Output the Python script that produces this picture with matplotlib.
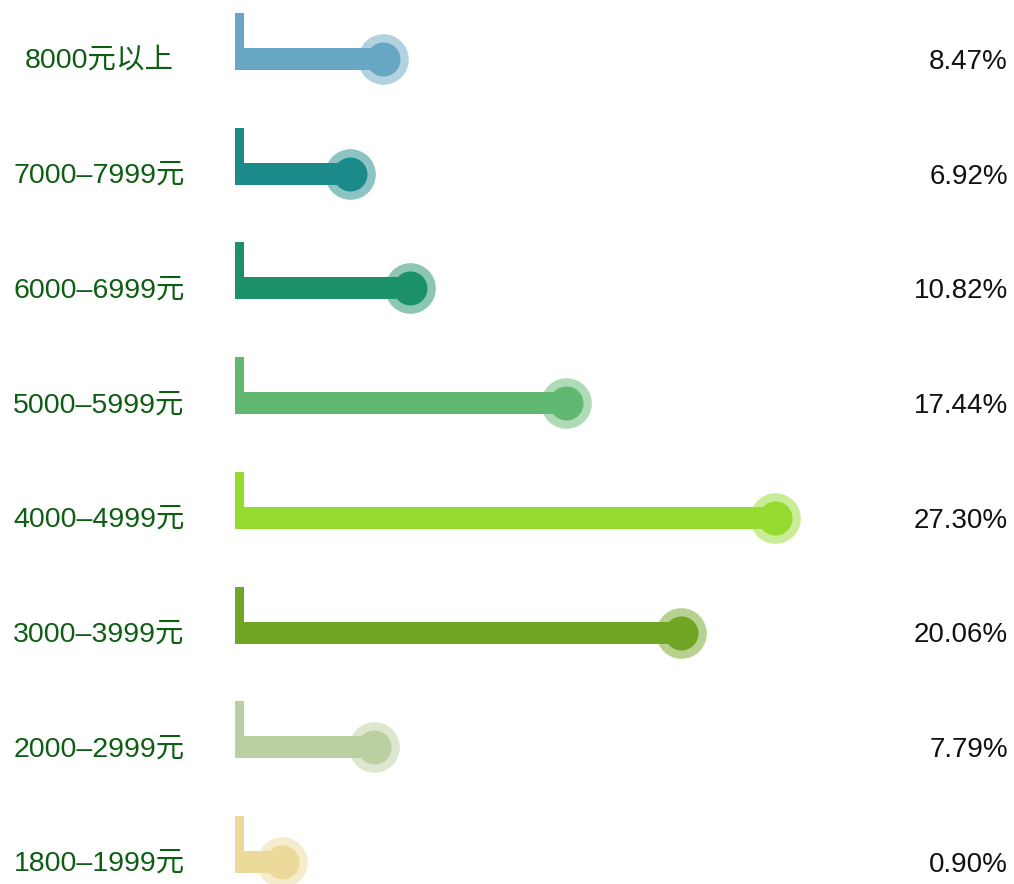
import matplotlib
matplotlib.use("Agg")
import matplotlib.pyplot as plt
import matplotlib.transforms as mtransforms

plt.rcParams['font.family'] = ['Liberation Sans', 'Noto Sans CJK SC', 'DejaVu Sans']

# ---- data (top to bottom) ----
categories = ["8000元以上", "7000–7999元", "6000–6999元", "5000–5999元",
              "4000–4999元", "3000–3999元", "2000–2999元", "1800–1999元"]
percent_values = [8.47, 6.92, 10.82, 17.44, 27.30, 20.06, 7.79, 0.90]
# bar lengths as drawn in the picture (same units as the 27.30% bar)
bar_lengths = [7.48, 5.79, 8.85, 16.73, 27.30, 22.55, 7.03, 2.38]
colors = ["#67A7C3", "#1B8A8A", "#1C9068", "#61B870",
          "#95DA2E", "#71A524", "#BCCFA0", "#EBDA9A"]

W, H, DPI = 1014, 884, 100
fig = plt.figure(figsize=(W / DPI, H / DPI), dpi=DPI)
ax = fig.add_axes([0, 0, 1, 1])
ax.axis("off")

px_per_unit_x = 19.78
x0_px = 235
row_px = 114.7
first_row_px = 59

ax.set_xlim(-x0_px / px_per_unit_x, (W - x0_px) / px_per_unit_x)
ax.set_ylim((H - first_row_px) / row_px, -first_row_px / row_px)

bar_h = 22 / row_px
stem_w = 9 / px_per_unit_x
stem_top = 46 / row_px

n = len(categories)
ys = list(range(n))

for i in ys:
    c = colors[i]
    # horizontal bar
    ax.barh(i, bar_lengths[i], height=bar_h, left=0, color=c, zorder=2)
    # vertical stem
    ax.bar(0, stem_top + bar_h / 2, width=stem_w, bottom=i - stem_top,
           align='edge', color=c, zorder=2)
    # halo + dot
    ax.scatter([bar_lengths[i]], [i], s=1330, color=c, alpha=0.5,
               linewidths=0, zorder=3)
    ax.scatter([bar_lengths[i]], [i], s=600, color=c, linewidths=0, zorder=4)

trans = mtransforms.blended_transform_factory(fig.transFigure, ax.transData)
for i in ys:
    ax.text(99 / W, i + 2 / row_px, categories[i], transform=trans,
            ha='center', va='center', fontsize=20.5, color='#0d5e12')
    ax.text(1008 / W, i + 3 / row_px, f"{percent_values[i]:.2f}%",
            transform=trans, ha='right', va='center', fontsize=20,
            color='#111111')

fig.savefig("out.png", dpi=DPI)
